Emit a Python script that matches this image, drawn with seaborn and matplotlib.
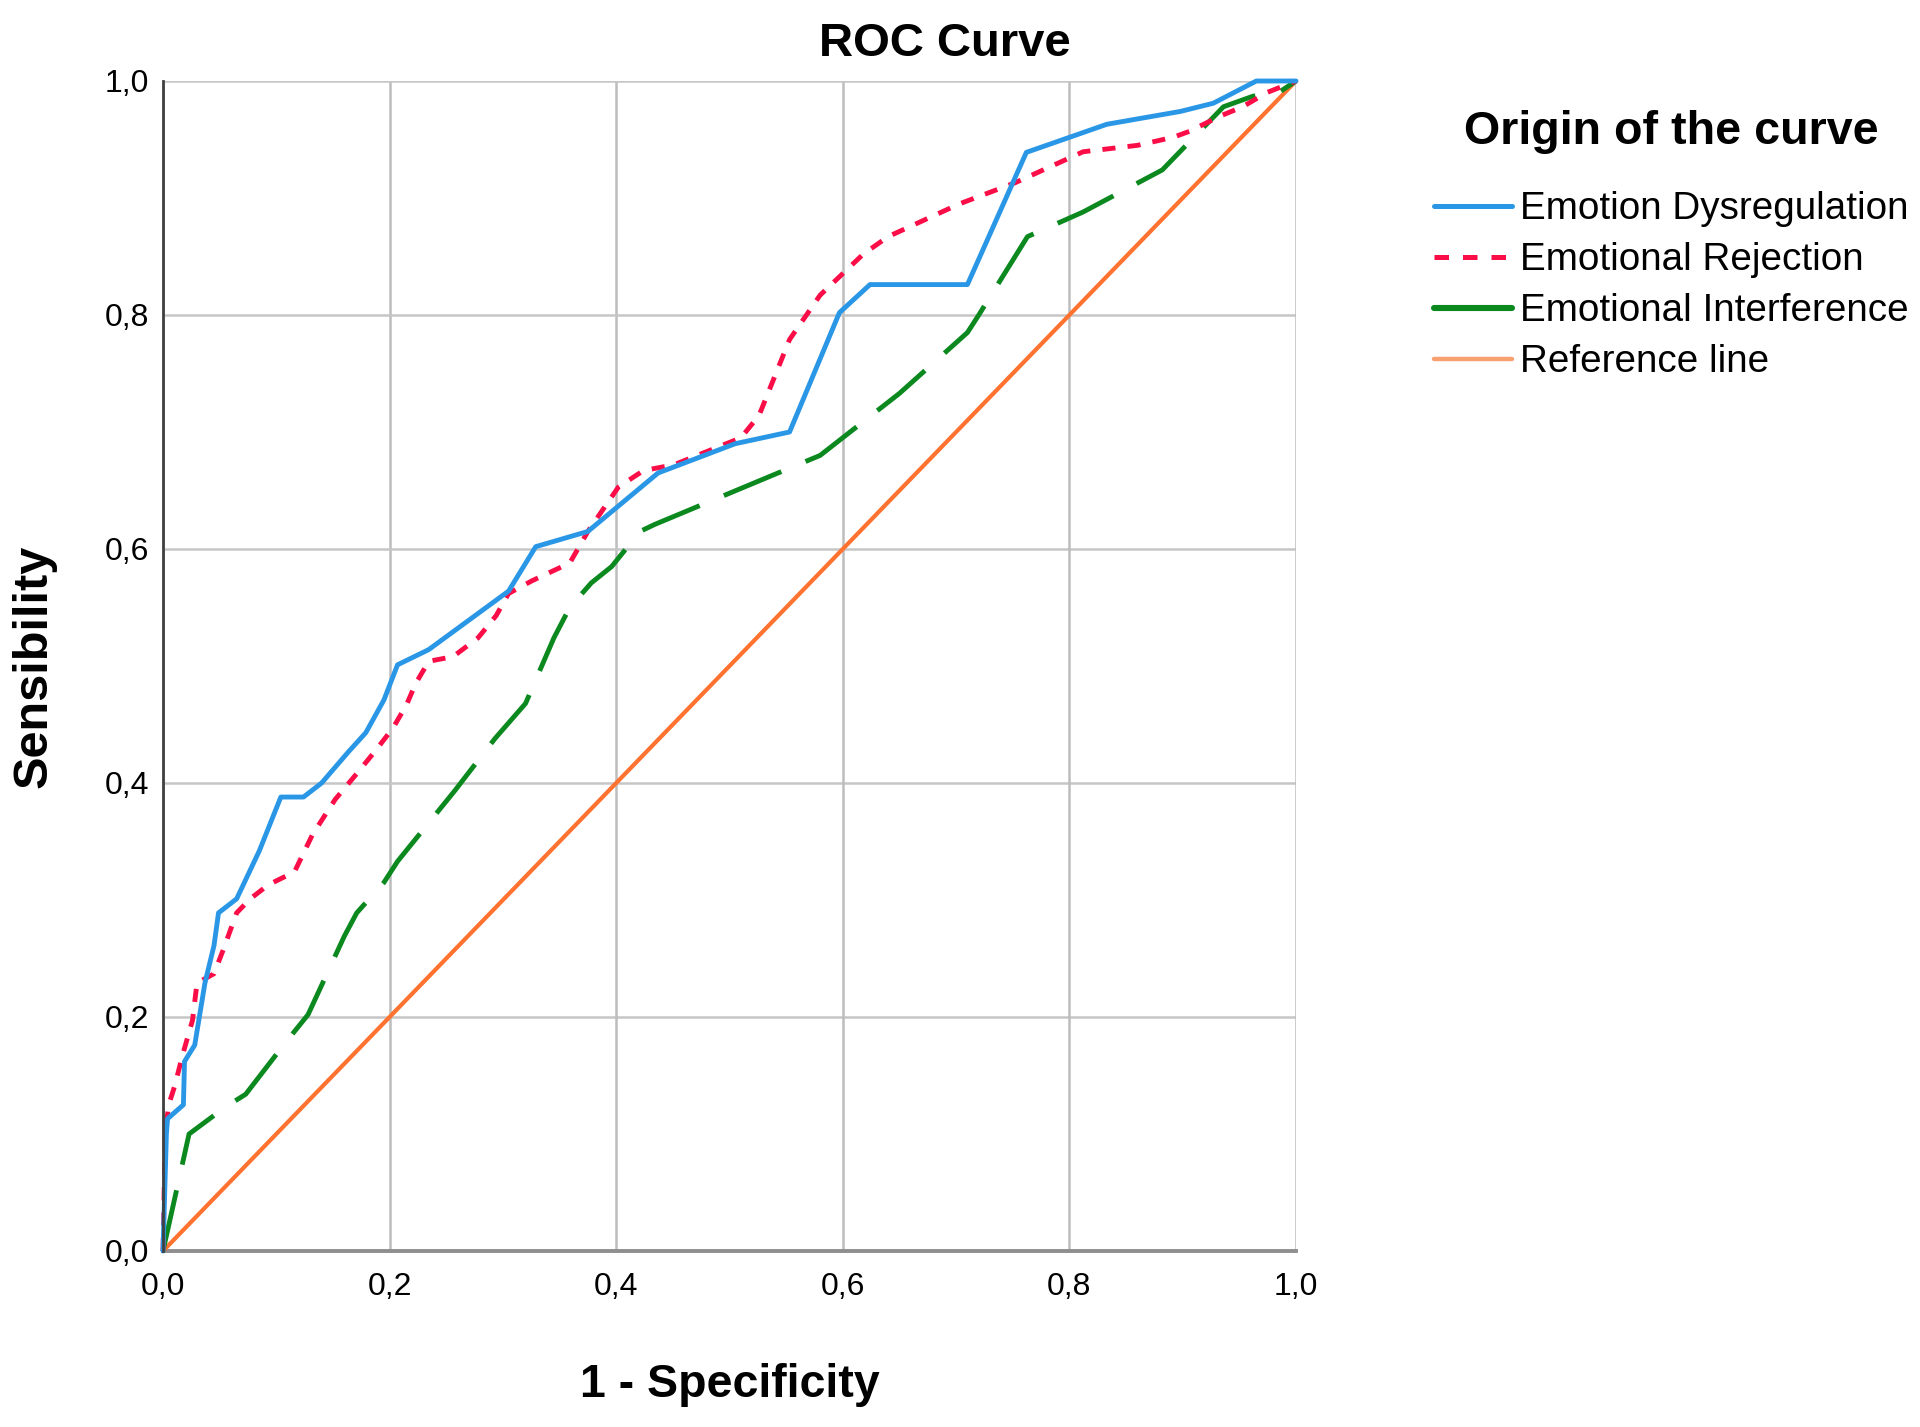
import numpy as np
import pandas as pd
import matplotlib
matplotlib.use("Agg")
import matplotlib.pyplot as plt
from matplotlib.lines import Line2D
import seaborn as sns

# ---------------- data ----------------
dys_x = [0.0, 0.003, 0.004, 0.018, 0.019, 0.028, 0.037, 0.045, 0.049, 0.065, 0.085,
         0.104, 0.124, 0.140, 0.164, 0.179, 0.195, 0.207, 0.2345, 0.305, 0.329, 0.375,
         0.437, 0.505, 0.553, 0.597, 0.624, 0.710, 0.762, 0.833, 0.898, 0.927, 0.965, 1.0]
dys_y = [0.0, 0.100, 0.113, 0.125, 0.162, 0.176, 0.229, 0.261, 0.289, 0.301, 0.342,
         0.388, 0.388, 0.400, 0.427, 0.443, 0.471, 0.501, 0.514, 0.564, 0.602, 0.615,
         0.665, 0.690, 0.700, 0.802, 0.826, 0.826, 0.939, 0.963, 0.974, 0.981, 1.0, 1.0]

rej_x = [0.0, 0.002, 0.005, 0.010, 0.018, 0.026, 0.030, 0.045, 0.053, 0.065, 0.077,
         0.093, 0.116, 0.132, 0.152, 0.171, 0.187, 0.203, 0.215, 0.223, 0.2345, 0.256,
         0.278, 0.294, 0.305, 0.326, 0.359, 0.375, 0.402, 0.424, 0.451, 0.510, 0.526,
         0.553, 0.580, 0.618, 0.640, 0.703, 0.752, 0.812, 0.860, 0.892, 0.906, 0.933,
         0.953, 0.974, 1.0]
rej_y = [0.0, 0.100, 0.125, 0.140, 0.170, 0.197, 0.229, 0.237, 0.257, 0.289, 0.301,
         0.313, 0.324, 0.356, 0.386, 0.408, 0.427, 0.447, 0.467, 0.485, 0.504, 0.508,
         0.524, 0.543, 0.562, 0.573, 0.588, 0.615, 0.653, 0.667, 0.672, 0.695, 0.714,
         0.779, 0.817, 0.852, 0.867, 0.895, 0.913, 0.9395, 0.945, 0.952, 0.957, 0.970,
         0.978, 0.990, 1.0]

int_x = [0.0, 0.023, 0.055, 0.073, 0.108, 0.128, 0.160, 0.171, 0.195, 0.207, 0.258,
         0.293, 0.320, 0.345, 0.359, 0.378, 0.396, 0.421, 0.434, 0.580, 0.650, 0.710,
         0.720, 0.763, 0.812, 0.882, 0.898, 0.936, 0.962, 0.986, 1.0]
int_y = [0.0, 0.100, 0.123, 0.134, 0.178, 0.202, 0.269, 0.289, 0.315, 0.333, 0.394,
         0.438, 0.468, 0.524, 0.550, 0.571, 0.585, 0.615, 0.621, 0.680, 0.733, 0.785,
         0.800, 0.867, 0.888, 0.924, 0.940, 0.978, 0.987, 0.991, 1.0]

ref_x = [0.0, 1.0]
ref_y = [0.0, 1.0]

series_names = ["Emotion Dysregulation", "Emotional Rejection",
                "Emotional Interference", "Reference line"]
tick_vals = [0.0, 0.2, 0.4, 0.6, 0.8, 1.0]
tick_labels = ["0,0", "0,2", "0,4", "0,6", "0,8", "1,0"]

# ---------------- style ----------------
sns.set_theme(style="white")
plt.rcParams["font.family"] = ["Liberation Sans", "DejaVu Sans"]
plt.rcParams["text.color"] = "black"

c_blue = "#2a97e6"
c_red = "#fb0d47"
c_green = "#0b891f"
c_orange = "#ff7230"
c_orange_leg = "#f9a070"

W, H = 1920, 1427
fig = plt.figure(figsize=(W / 100, H / 100), dpi=100)
ax = fig.add_axes([163 / W, 1 - 1251 / H, 1133 / W, 1170 / H])

# grid
for v in tick_vals:
    ax.axhline(v, color="#c6c6c6", lw=1.8, zorder=0)
    ax.axvline(v, color="#bdbdbd", lw=1.8, zorder=0)

lw = 3.5

df_ref = pd.DataFrame({"x": ref_x, "y": ref_y})
sns.lineplot(data=df_ref, x="x", y="y", estimator=None, sort=False, ax=ax,
             color=c_orange, linewidth=3.0, zorder=3, clip_on=False)

df_int = pd.DataFrame({"x": int_x, "y": int_y})
sns.lineplot(data=df_int, x="x", y="y", estimator=None, sort=False, ax=ax,
             color=c_green, linewidth=lw, linestyle=(0, (12.8, 5.4)),
             zorder=4, clip_on=False)

df_rej = pd.DataFrame({"x": rej_x, "y": rej_y})
sns.lineplot(data=df_rej, x="x", y="y", estimator=None, sort=False, ax=ax,
             color=c_red, linewidth=lw, linestyle=(0, (2.7, 2.5)),
             zorder=5, clip_on=False)

df_dys = pd.DataFrame({"x": dys_x, "y": dys_y})
sns.lineplot(data=df_dys, x="x", y="y", estimator=None, sort=False, ax=ax,
             color=c_blue, linewidth=lw, zorder=6, clip_on=False)

ax.set_xlim(0, 1)
ax.set_ylim(0, 1)
ax.set_xticks(tick_vals)
ax.set_xticklabels(tick_labels)
ax.set_yticks(tick_vals)
ax.set_yticklabels(tick_labels)
ax.tick_params(axis="both", length=0, labelsize=23, colors="black")
ax.tick_params(axis="x", pad=15)
ax.tick_params(axis="y", pad=10)

for s in ["top", "right"]:
    ax.spines[s].set_visible(False)
ax.spines["left"].set_color("#404040")
ax.spines["left"].set_linewidth(2.0)
ax.spines["bottom"].set_color("#8e8e8e")
ax.spines["bottom"].set_linewidth(2.8)
ax.spines["left"].set_zorder(7)

# axis labels
ax.set_xlabel("1 - Specificity", fontsize=33.5, fontweight="bold", color="black",
              va="baseline")
ax.xaxis.set_label_coords(0.5, -146 / 1170)
ax.set_ylabel("Sensibility", fontsize=35, fontweight="bold", color="black",
              va="center")
ax.yaxis.set_label_coords((34 - 163) / 1133, 0.5)

# title
fig.text(945 / W, 1 - 56 / H, "ROC Curve", fontsize=34, fontweight="bold",
         ha="center", va="baseline", color="black")

# legend
handles = [
    Line2D([0], [0], color=c_blue, lw=3.6),
    Line2D([0], [0], color=c_red, lw=3.6, linestyle=(0, (2.9, 2.8))),
    Line2D([0], [0], color=c_green, lw=4.4),
    Line2D([0], [0], color=c_orange_leg, lw=3.2),
]
leg = fig.legend(handles, series_names, loc="upper left",
                 bbox_to_anchor=(1434 / W, 1 - 109.6 / H),
                 frameon=False, fontsize=27.8, title="Origin of the curve",
                 title_fontproperties={"size": 33.6, "weight": "bold"},
                 handlelength=2.02, handletextpad=0.21, labelspacing=0.39,
                 borderpad=0, borderaxespad=0, labelcolor="black")
leg.get_title().set_color("black")
try:
    leg._legend_box.sep = 27.1
except Exception:
    pass

fig.savefig("out.png", dpi=100)
